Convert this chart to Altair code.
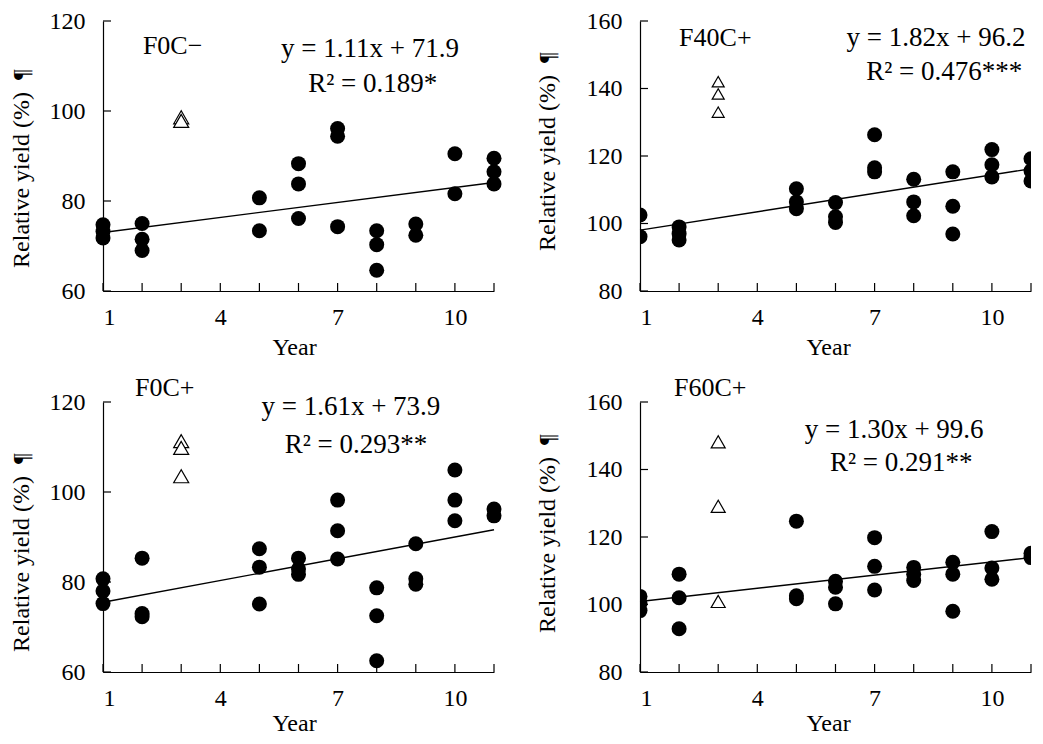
import altair as alt
import pandas as pd

FONT = "Liberation Serif"

# ---------------- data ----------------
x_tick_years = list(range(1, 12))
x_label_years = [1, 4, 7, 10]

# Panel 1: F0C-
p1_dot_year = [1, 1, 1, 2, 2, 2, 5, 5, 6, 6, 6, 7, 7, 7, 8, 8, 8, 9, 9, 10, 10, 11, 11, 11]
p1_dot_yield = [74.7, 73.2, 71.8, 75.0, 71.5, 69.0, 80.7, 73.4, 88.3, 83.8, 76.1,
                96.1, 94.4, 74.3, 73.4, 70.3, 64.6, 74.9, 72.4, 90.5, 81.6, 89.5, 86.5, 83.8]
p1_tri_year = [3, 3]
p1_tri_yield = [98.6, 97.8]

# Panel 2: F40C+
p2_dot_year = [1, 1, 2, 2, 2, 5, 5, 5, 6, 6, 6, 7, 7, 7, 8, 8, 8, 9, 9, 9, 10, 10, 10, 11, 11, 11]
p2_dot_yield = [102.5, 96.1, 99.0, 97.0, 95.1, 110.3, 106.4, 104.4, 106.2, 102.0, 100.3,
                126.3, 116.5, 115.3, 113.1, 106.4, 102.3, 115.3, 105.1, 96.9,
                121.9, 117.4, 113.8, 119.2, 115.6, 112.6]
p2_tri_year = [3, 3, 3]
p2_tri_yield = [142.0, 138.4, 133.0]

# Panel 3: F0C+
p3_dot_year = [1, 1, 1, 2, 2, 2, 5, 5, 5, 6, 6, 6, 7, 7, 7, 8, 8, 8, 9, 9, 9, 10, 10, 10, 11, 11]
p3_dot_yield = [80.7, 78.0, 75.2, 85.3, 73.0, 72.3, 87.4, 83.3, 75.1, 85.3, 82.9, 81.7,
                98.2, 91.4, 85.1, 78.7, 72.5, 62.5, 88.5, 80.7, 79.5, 104.9, 98.2, 93.6, 96.2, 94.7]
p3_tri_year = [3, 3, 3]
p3_tri_yield = [111.3, 109.8, 103.5]

# Panel 4: F60C+
p4_dot_year = [1, 1, 1, 2, 2, 2, 5, 5, 5, 6, 6, 6, 7, 7, 7, 8, 8, 8, 9, 9, 9, 10, 10, 10, 11, 11]
p4_dot_yield = [102.4, 100.4, 98.2, 109.0, 102.0, 92.8, 124.7, 102.6, 101.7, 106.9, 105.1, 100.2,
                119.8, 111.3, 104.3, 111.0, 109.0, 107.1, 112.5, 109.0, 98.0,
                121.6, 110.8, 107.5, 115.2, 113.9]
p4_tri_year = [3, 3, 3]
p4_tri_yield = [148.2, 129.1, 100.9]

panel_labels = ["F0C\u2212", "F40C+", "F0C+", "F60C+"]
slopes = [1.11, 1.82, 1.61, 1.30]
intercepts = [71.9, 96.2, 73.9, 99.6]
eq_texts = ["y = 1.11x + 71.9", "y = 1.82x + 96.2", "y = 1.61x + 73.9", "y = 1.30x + 99.6"]
r2_texts = ["R\u00b2 = 0.189*", "R\u00b2 = 0.476***", "R\u00b2 = 0.293**", "R\u00b2 = 0.291**"]
y_domains = [[60, 120], [80, 160], [60, 120], [80, 160]]
y_ticks = [[60, 80, 100, 120], [80, 100, 120, 140, 160], [60, 80, 100, 120], [80, 100, 120, 140, 160]]
line_years = [1, 11]

# annotation anchor points (data coordinates): label, equation, R2
label_pos = [(2.02, 112.7), (2.00, 152.6), (1.82, 121.3), (1.87, 161.8)]
eq_pos = [(7.83, 112.0), (8.57, 152.6), (7.34, 117.2), (7.50, 149.4)]
r2_pos = [(7.90, 104.3), (8.78, 142.6), (7.47, 108.75), (7.68, 139.6)]

# ---------------- styling ----------------
W, H = 391, 270
TICK = 8
YTITLE = "Relative yield (%)\u00a0\u00a0\u00b6"
ytitle_x = [-75, -86, -75, -86]
ytitle_y = [147, 130, 150, 131]
xtitle_x = [191, 188, 191, 188]
xtitle_y = [63, 63, 58, 58]
tri_sizes = [225, 144, 225, 196]
clip_marks = [False, True, False, True]


def make_panel(i, dot_year, dot_yield, tri_year, tri_yield):
    xs = alt.Scale(domain=[1, 11], nice=False, zero=False)
    ys = alt.Scale(domain=y_domains[i], nice=False, zero=False)
    xaxis = alt.Axis(values=x_label_years, tickSize=0, labelPadding=14, grid=False,
                     domainColor="black", domainWidth=1.2, labelFont=FONT, labelFontSize=24,
                     labelColor="black", title="Year", titleFont=FONT, titleFontSize=24,
                     titleFontWeight="normal", titleColor="black", titleY=xtitle_y[i],
                     titleBaseline="alphabetic", titleX=xtitle_x[i])
    yaxis = alt.Axis(values=y_ticks[i], tickSize=0, labelPadding=18, grid=False,
                     domainColor="black", domainWidth=1.2, labelFont=FONT, labelFontSize=24,
                     labelColor="black", title=YTITLE, titleFont=FONT, titleFontSize=24,
                     titleFontWeight="normal", titleColor="black", titleAngle=270,
                     titleAlign="center", titleBaseline="alphabetic",
                     titleX=ytitle_x[i], titleY=ytitle_y[i])
    X = alt.X("year:Q", scale=xs, axis=xaxis)
    Y = alt.Y("yield:Q", scale=ys, axis=yaxis)

    dots = pd.DataFrame({"year": dot_year, "yield": dot_yield})
    tris = pd.DataFrame({"year": tri_year, "yield": tri_yield})
    line = pd.DataFrame({"year": line_years,
                         "yield": [slopes[i] * v + intercepts[i] for v in line_years]})
    xt = pd.DataFrame({"year": x_tick_years})
    yt = pd.DataFrame({"yield": y_ticks[i]})
    lab = pd.DataFrame({"year": [label_pos[i][0]], "yield": [label_pos[i][1]],
                        "text": [panel_labels[i]]})
    eqs = pd.DataFrame({"year": [eq_pos[i][0], r2_pos[i][0]],
                        "yield": [eq_pos[i][1], r2_pos[i][1]],
                        "text": [eq_texts[i], r2_texts[i]]})

    dot_layer = alt.Chart(dots).mark_point(shape="circle", filled=True, size=225,
                                           color="black", opacity=1,
                                           clip=clip_marks[i]).encode(x=X, y=Y)
    tri_layer = alt.Chart(tris).mark_point(shape="triangle-up", filled=True, fill="white",
                                           stroke="black", strokeWidth=1.2, opacity=1,
                                           size=tri_sizes[i]).encode(x=X, y=Y)
    line_layer = alt.Chart(line).mark_line(color="black", strokeWidth=1.4).encode(x=X, y=Y)
    xtick_layer = alt.Chart(xt).mark_rule(color="black", strokeWidth=1.2).encode(
        x=X, y=alt.value(H), y2=alt.value(H - TICK))
    ytick_layer = alt.Chart(yt).mark_rule(color="black", strokeWidth=1.2).encode(
        y=Y, x=alt.value(0), x2=alt.value(TICK))
    lab_layer = alt.Chart(lab).mark_text(font=FONT, fontSize=26, align="left",
                                         baseline="alphabetic", color="black").encode(
        x=X, y=Y, text="text:N")
    eq_layer = alt.Chart(eqs).mark_text(font=FONT, fontSize=27, align="center",
                                        baseline="alphabetic", color="black").encode(
        x=X, y=Y, text="text:N")
    return alt.layer(line_layer, xtick_layer, ytick_layer, dot_layer, tri_layer,
                     lab_layer, eq_layer).properties(width=W, height=H)


p1 = make_panel(0, p1_dot_year, p1_dot_yield, p1_tri_year, p1_tri_yield)
p2 = make_panel(1, p2_dot_year, p2_dot_yield, p2_tri_year, p2_tri_yield)
p3 = make_panel(2, p3_dot_year, p3_dot_yield, p3_tri_year, p3_tri_yield)
p4 = make_panel(3, p4_dot_year, p4_dot_yield, p4_tri_year, p4_tri_yield)

chart = alt.vconcat(
    alt.hconcat(p1, p2, spacing=33),
    alt.hconcat(p3, p4, spacing=33),
    spacing=15,
).properties(
    padding={"left": 1, "top": 1, "right": 0, "bottom": 0},
    background="white",
).configure(
    font=FONT,
    style={"guide-title": {"font": FONT}, "guide-label": {"font": FONT}},
).configure_axis(
    labelFont=FONT, titleFont=FONT, labelColor="black", titleColor="black",
).configure_axisY(
    titleFont=FONT, labelFont=FONT,
).configure_text(
    font=FONT,
).configure_view(stroke=None)

chart.save("out.html", embed_options={"renderer": "svg", "actions": False})
